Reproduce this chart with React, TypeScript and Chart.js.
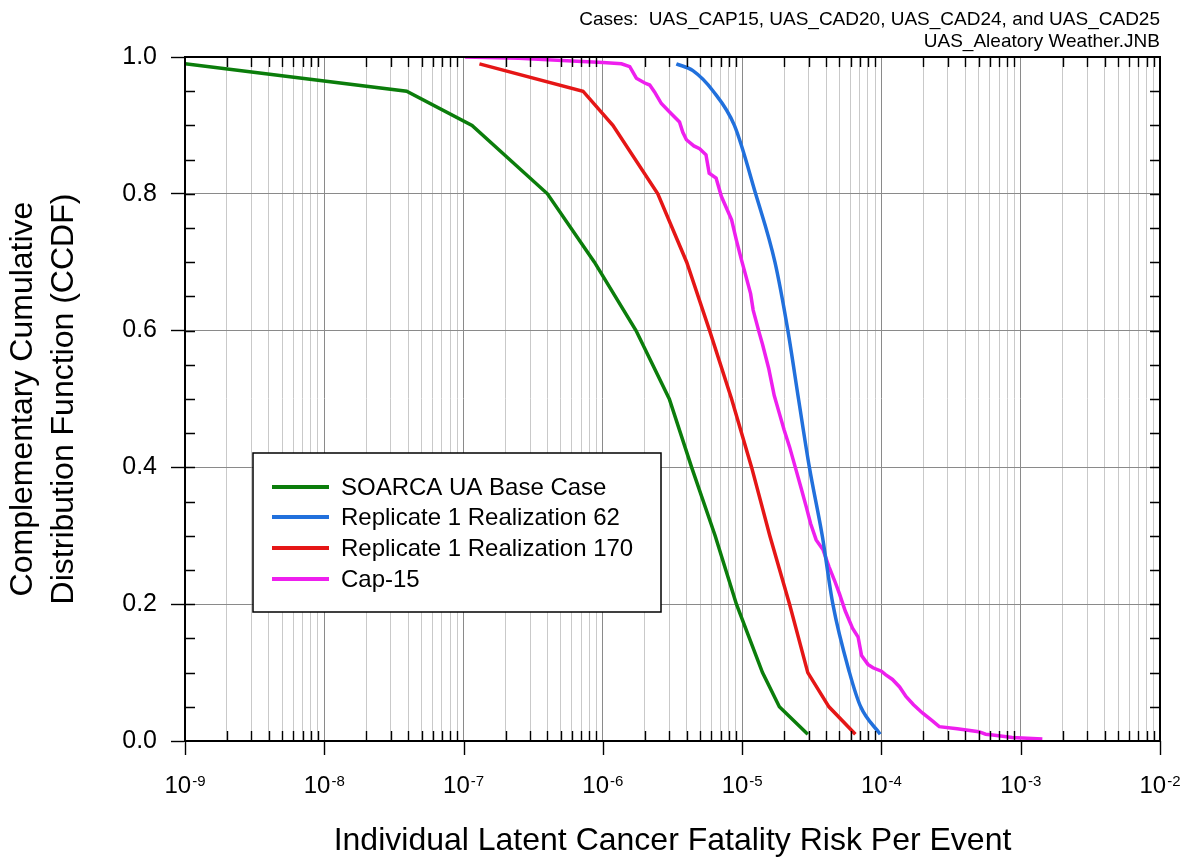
import React, { useEffect, useRef } from 'react';
import { Chart, registerables } from 'chart.js';

Chart.register(...registerables);

// ---------- data ----------
const GREEN_X = [1e-9, 3.9e-8, 1.15e-7, 4.0e-7, 8.7e-7, 1.73e-6, 3.0e-6, 4.34e-6, 6.4e-6, 9.1e-6, 1.4e-5, 1.85e-5, 2.96e-5];
const GREEN_Y = [0.99, 0.95, 0.90, 0.80, 0.70, 0.60, 0.50, 0.40, 0.30, 0.20, 0.10, 0.05, 0.01];

const BLUE_X = [3.37e-6, 4.43e-6, 6.2e-6, 8.8e-6, 1.25e-5, 1.72e-5, 2.13e-5, 2.54e-5, 3.04e-5, 3.76e-5, 4.48e-5, 5.9e-5, 7.1e-5, 9.8e-5];
const BLUE_Y = [0.99, 0.98, 0.95, 0.90, 0.80, 0.70, 0.60, 0.50, 0.40, 0.30, 0.20, 0.10, 0.05, 0.01];

const RED_X = [1.3e-7, 7.2e-7, 1.18e-6, 2.48e-6, 4.0e-6, 5.84e-6, 8.4e-6, 1.17e-5, 1.58e-5, 2.19e-5, 2.96e-5, 4.2e-5, 6.5e-5];
const RED_Y = [0.99, 0.95, 0.90, 0.80, 0.70, 0.60, 0.50, 0.40, 0.30, 0.20, 0.10, 0.05, 0.01];

const CAP_X = [
  1.02e-7, 2.5e-7, 6e-7, 1.0e-6, 1.36e-6, 1.56e-6, 1.74e-6, 2.0e-6, 2.17e-6, 2.35e-6,
  2.63e-6, 3.0e-6, 3.55e-6, 3.75e-6, 3.98e-6, 4.5e-6, 4.95e-6, 5.5e-6, 5.8e-6, 6.5e-6,
  7.1e-6, 8.4e-6, 9.1e-6, 9.9e-6, 1.05e-5, 1.15e-5, 1.2e-5, 1.33e-5, 1.4e-5, 1.55e-5,
  1.7e-5, 1.85e-5, 2.0e-5, 2.19e-5, 2.44e-5, 2.65e-5, 2.88e-5, 3.1e-5, 3.4e-5, 3.8e-5,
  4.2e-5, 4.6e-5, 5.0e-5, 5.5e-5, 6.2e-5, 6.8e-5, 7.2e-5, 8.0e-5, 8.7e-5, 1.0e-4,
  1.07e-4, 1.2e-4, 1.35e-4, 1.5e-4, 1.7e-4, 1.97e-4, 2.3e-4, 2.6e-4, 3.5e-4, 5.0e-4,
  5.6e-4, 6.3e-4, 8.7e-4, 1.43e-3,
];
const CAP_Y = [
  1.0, 0.998, 0.994, 0.992, 0.99, 0.986, 0.969, 0.962, 0.959, 0.949,
  0.932, 0.92, 0.905, 0.89, 0.879, 0.87, 0.866, 0.857, 0.83, 0.823,
  0.796, 0.762, 0.732, 0.703, 0.684, 0.654, 0.63, 0.596, 0.58, 0.545,
  0.505, 0.479, 0.455, 0.43, 0.396, 0.37, 0.343, 0.318, 0.294, 0.28,
  0.255, 0.235, 0.215, 0.19, 0.165, 0.152, 0.125, 0.112, 0.107, 0.102,
  0.097, 0.09, 0.079, 0.065, 0.053, 0.041, 0.03, 0.021, 0.018, 0.0136,
  0.01, 0.0088, 0.005, 0.003,
];

const SERIES_LABELS = ['SOARCA UA Base Case', 'Replicate 1 Realization 62', 'Replicate 1 Realization 170', 'Cap-15'];
const SERIES_COLORS = ['#0b7d0b', '#2170dc', '#e51616', '#ee1fee'];

const X_DECADES = [-9, -8, -7, -6, -5, -4, -3, -2];
const X_MULTIPLIERS = [1, 2, 3, 4, 5, 6, 7, 8, 9];
const Y_TICKS = [0, 0.2, 0.4, 0.6, 0.8, 1.0];
const Y_MINOR_STEP = 0.05;

const HEADER_LINES = ['Cases:  UAS_CAP15, UAS_CAD20, UAS_CAD24, and UAS_CAD25', 'UAS_Aleatory Weather.JNB'];
const X_TITLE = 'Individual Latent Cancer Fatality Risk Per Event';
const Y_TITLE = ['Complementary Cumulative', 'Distribution Function (CCDF)'];

const FONT = '"Liberation Sans", Arial, Helvetica, sans-serif';

const toPoints = (xs: number[], ys: number[]) => xs.map((x, i) => ({ x, y: ys[i] }));

const decorations = {
  id: 'decorations',
  beforeDraw(chart: any) {
    const { ctx, width, height } = chart;
    ctx.save();
    ctx.fillStyle = '#ffffff';
    ctx.fillRect(0, 0, width, height);
    ctx.restore();
  },
  afterDraw(chart: any) {
    const { ctx, chartArea: a, scales } = chart;
    const xs = scales.x;
    const ys = scales.y;
    ctx.save();

    // frame
    ctx.strokeStyle = '#000';
    ctx.lineWidth = 2;
    ctx.strokeRect(a.left, a.top, a.right - a.left, a.bottom - a.top);

    // x ticks
    ctx.lineWidth = 1.4;
    for (const t of xs.ticks) {
      const px = Math.round(xs.getPixelForValue(t.value)) + 0.5;
      ctx.beginPath();
      if (t.major) {
        ctx.moveTo(px, a.bottom);
        ctx.lineTo(px, a.bottom + 14);
      } else {
        ctx.moveTo(px, a.bottom);
        ctx.lineTo(px, a.bottom - 10);
        ctx.moveTo(px, a.top);
        ctx.lineTo(px, a.top + 10);
      }
      ctx.stroke();
    }

    // y minor ticks (inside, left and right)
    for (let v = Y_MINOR_STEP; v < 1; v += Y_MINOR_STEP) {
      const py = Math.round(ys.getPixelForValue(v)) + 0.5;
      ctx.beginPath();
      ctx.moveTo(a.left, py);
      ctx.lineTo(a.left + 10, py);
      ctx.moveTo(a.right, py);
      ctx.lineTo(a.right - 10, py);
      ctx.stroke();
    }

    // x tick labels: 10 with superscript exponent
    ctx.fillStyle = '#000';
    ctx.textBaseline = 'alphabetic';
    ctx.textAlign = 'left';
    for (const d of X_DECADES) {
      const px = xs.getPixelForValue(Math.pow(10, d));
      ctx.font = `24px ${FONT}`;
      const w1 = ctx.measureText('10').width;
      ctx.font = `15px ${FONT}`;
      const exp = String(d);
      const w2 = ctx.measureText(exp).width;
      const start = px - (w1 + w2 + 1) / 2;
      ctx.font = `24px ${FONT}`;
      ctx.fillText('10', start, 793);
      ctx.font = `15px ${FONT}`;
      ctx.fillText(exp, start + w1 + 1, 786);
    }

    // x title
    ctx.font = `32px ${FONT}`;
    ctx.textAlign = 'center';
    ctx.textBaseline = 'alphabetic';
    ctx.fillText(X_TITLE, (a.left + a.right) / 2, 850);

    // y title
    ctx.save();
    const cy = (a.top + a.bottom) / 2;
    ctx.textBaseline = 'middle';
    ctx.font = `32px ${FONT}`;
    ctx.translate(23, cy);
    ctx.rotate(-Math.PI / 2);
    ctx.fillText(Y_TITLE[0], 0, 0);
    ctx.fillText(Y_TITLE[1], 0, 41);
    ctx.restore();

    // header (top right)
    ctx.font = `19px ${FONT}`;
    ctx.textAlign = 'right';
    ctx.textBaseline = 'alphabetic';
    ctx.fillText(HEADER_LINES[0], a.right, 25);
    ctx.fillText(HEADER_LINES[1], a.right, 47);

    // legend box
    const lx = 253, ly = 453, lw = 408, lh = 159;
    ctx.fillStyle = '#fff';
    ctx.fillRect(lx, ly, lw, lh);
    ctx.strokeStyle = '#000';
    ctx.lineWidth = 1.5;
    ctx.strokeRect(lx, ly, lw, lh);
    const rows = [487, 517, 548, 579];
    chart.data.datasets.forEach((ds: any, i: number) => {
      const y = rows[i];
      ctx.strokeStyle = ds.borderColor;
      ctx.lineWidth = 4;
      ctx.beginPath();
      ctx.moveTo(272, y);
      ctx.lineTo(329, y);
      ctx.stroke();
      ctx.fillStyle = '#000';
      ctx.font = `24px ${FONT}`;
      ctx.textAlign = 'left';
      ctx.textBaseline = 'middle';
      ctx.fillText(ds.label, 341, y + 1);
    });

    ctx.restore();
  },
};

export default function App() {
  const ref = useRef<HTMLCanvasElement | null>(null);

  useEffect(() => {
    document.body.style.margin = '0';
    const canvas = ref.current;
    if (!canvas) return;
    const seriesX = [GREEN_X, BLUE_X, RED_X, CAP_X];
    const seriesY = [GREEN_Y, BLUE_Y, RED_Y, CAP_Y];
    const chart = new Chart(canvas, {
      type: 'line',
      data: {
        datasets: SERIES_LABELS.map((label, i) => ({
          label,
          data: toPoints(seriesX[i], seriesY[i]),
          borderColor: SERIES_COLORS[i],
          backgroundColor: SERIES_COLORS[i],
          borderWidth: 3.5,
          pointRadius: 0,
          fill: false,
          tension: 0,
          cubicInterpolationMode: i === 1 ? 'monotone' : 'default',
        })),
      },
      options: {
        animation: false,
        responsive: false,
        maintainAspectRatio: false,
        layout: { padding: { left: 0, top: 57, right: 30, bottom: 0 } },
        plugins: {
          legend: { display: false },
          title: { display: false },
          tooltip: { enabled: false },
        },
        scales: {
          x: {
            type: 'logarithmic',
            min: 1e-9,
            max: 1e-2,
            afterBuildTicks: (s: any) => {
              const ticks: any[] = [];
              X_DECADES.forEach((d, di) => {
                X_MULTIPLIERS.forEach((m) => {
                  if (di === X_DECADES.length - 1 && m > 1) return;
                  ticks.push({ value: m * Math.pow(10, d), major: m === 1 });
                });
              });
              s.ticks = ticks;
            },
            afterFit: (s: any) => {
              s.height = 119;
            },
            ticks: { display: false },
            grid: {
              drawTicks: false,
              color: (c: any) => (c.tick && c.tick.major ? '#8a8a8a' : '#c9c9c9'),
              lineWidth: 1,
            },
            border: { display: true, color: '#000', width: 2 },
          },
          y: {
            type: 'linear',
            min: 0,
            max: 1,
            afterBuildTicks: (s: any) => {
              s.ticks = Y_TICKS.map((v) => ({ value: v }));
            },
            afterFit: (s: any) => {
              s.width = 185;
            },
            ticks: {
              color: '#000',
              font: { family: FONT, size: 25 },
              padding: 14,
              callback: (v: any) => Number(v).toFixed(1),
            },
            grid: {
              drawTicks: true,
              tickLength: 14,
              tickColor: '#000',
              tickWidth: 1.4,
              color: '#8a8a8a',
              lineWidth: 1,
            },
            border: { display: true, color: '#000', width: 2 },
          },
        },
      } as any,
      plugins: [decorations],
    });
    return () => chart.destroy();
  }, []);

  return (
    <div style={{ width: 1190, height: 860, background: '#fff' }}>
      <canvas ref={ref} width={1190} height={860} style={{ display: 'block' }} />
    </div>
  );
}
